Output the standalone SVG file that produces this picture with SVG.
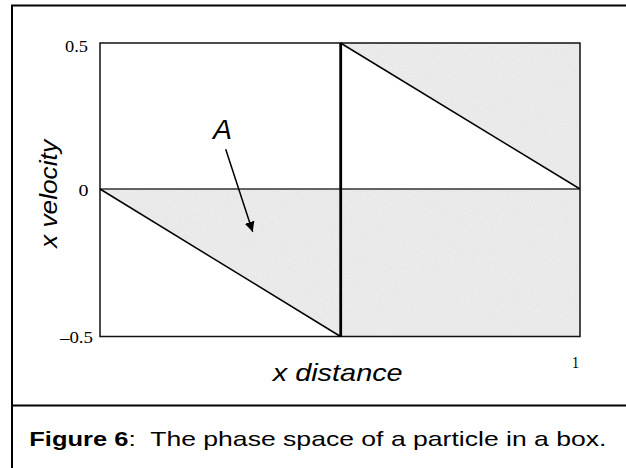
<svg xmlns="http://www.w3.org/2000/svg" width="626" height="468" viewBox="0 0 626 468">
  <style>
    .frame { stroke: #000; stroke-width: 2; fill: none; }
    .border { stroke: #111; stroke-width: 1.5; fill: none; }
    .thin { stroke: #000; stroke-width: 1.5; fill: none; }
    .tick { font-family: "Liberation Serif", "Times New Roman", serif; font-size: 16px; fill: #000; }
    .axis { font-family: "Liberation Sans", Arial, sans-serif; font-size: 24px; font-style: italic; fill: #000; }
    .cap { font-family: "Liberation Sans", Arial, sans-serif; font-size: 21px; fill: #000; }
    .shade { fill: #ececec; stroke: none; }
  </style>
  <defs>
    <filter id="grain" x="0" y="0" width="100%" height="100%">
      <feTurbulence type="fractalNoise" baseFrequency="0.9" numOctaves="2" seed="3" result="n"/>
      <feColorMatrix in="n" type="matrix" values="0 0 0 0 0.6  0 0 0 0 0.6  0 0 0 0 0.6  0.5 0 0 0 -0.18" result="g"/>
      <feComposite in="g" in2="SourceGraphic" operator="in" result="gc"/>
      <feMerge><feMergeNode in="SourceGraphic"/><feMergeNode in="gc"/></feMerge>
    </filter>
    <marker id="arrow" viewBox="0 0 10 10" refX="10" refY="5" markerWidth="10" markerHeight="10" markerUnits="userSpaceOnUse" orient="auto">
      <path d="M0,0 L10,5 L0,10 z" fill="#000"/>
    </marker>
  </defs>
  <rect width="626" height="468" fill="#fff"/>

  <g id="frame">
    <path class="frame" d="M12,468 V5.5 H626"/>
    <path class="frame" d="M12,405.5 H626"/>
  </g>

  <g id="plot">
    <g id="shading" filter="url(#grain)">
      <polygon class="shade" points="100,189 340.5,189 340.5,336.5"/>
      <polygon class="shade" points="340.5,43 580,43 580,189"/>
      <rect class="shade" x="340.5" y="189" width="239.5" height="147.5"/>
    </g>
    <rect class="border" x="100" y="43" width="480" height="293.5"/>
    <line x1="100" y1="189" x2="580" y2="189" stroke="#333" stroke-width="1.5"/>
    <line class="thin" x1="100" y1="189" x2="340.5" y2="336.5"/>
    <line class="thin" x1="340.5" y1="43" x2="580" y2="189"/>
    <line x1="340.7" y1="43" x2="340.7" y2="336.5" stroke="#000" stroke-width="2.8"/>
  </g>

  <g id="ticks">
    <text class="tick" x="65" y="51.5" textLength="23" lengthAdjust="spacingAndGlyphs">0.5</text>
    <text class="tick" x="78.5" y="196" textLength="10" lengthAdjust="spacingAndGlyphs">0</text>
    <text class="tick" x="60" y="342.5" textLength="33" lengthAdjust="spacingAndGlyphs">–0.5</text>
    <text class="tick" x="572" y="367.5" textLength="7" lengthAdjust="spacingAndGlyphs">1</text>
  </g>

  <g id="labels">
    <text class="axis" transform="translate(57.3,194) rotate(-90)" text-anchor="middle" textLength="108" lengthAdjust="spacingAndGlyphs">x velocity</text>
    <text class="axis" x="272.7" y="380.5" textLength="130" lengthAdjust="spacingAndGlyphs">x distance</text>
    <text class="axis" x="213" y="139.3" font-size="28" textLength="19" lengthAdjust="spacingAndGlyphs" style="font-size:28px">A</text>
  </g>

  <g id="connectors">
    <line x1="225.7" y1="149.3" x2="252.7" y2="231.7" stroke="#000" stroke-width="1.5" marker-end="url(#arrow)"/>
  </g>

  <g id="caption">
    <text class="cap" x="29.3" y="446" font-weight="bold" textLength="99" lengthAdjust="spacingAndGlyphs">Figure 6</text>
    <text class="cap" x="128.5" y="446" xml:space="preserve" textLength="478" lengthAdjust="spacingAndGlyphs">:  The phase space of a particle in a box.</text>
  </g>
</svg>
